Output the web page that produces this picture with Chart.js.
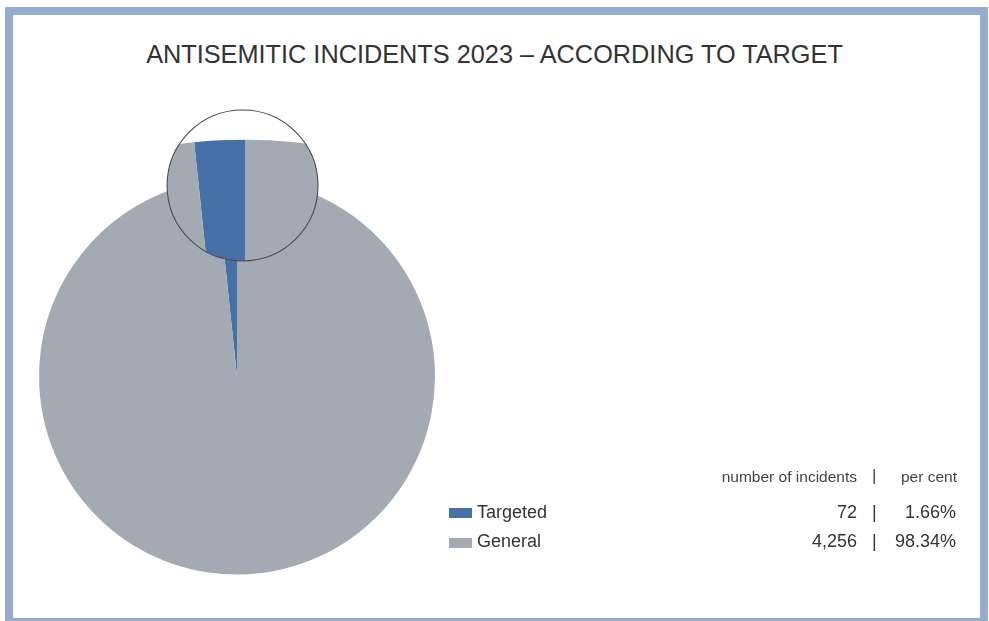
<!DOCTYPE html>
<html>
<head>
<meta charset="utf-8">
<script src="https://cdn.jsdelivr.net/npm/chart.js@4/dist/chart.umd.min.js"></script>
<style>
  html, body { margin: 0; padding: 0; background: #fff; overflow: hidden; }
  body { width: 989px; height: 621px; position: relative; font-family: "Liberation Sans", Arial, sans-serif; }
  .frame { position: absolute; left: 5px; top: 7px; width: 983px; height: 619px; box-sizing: border-box; border: 8px solid #97aad0; }
  .title { position: absolute; left: 0; width: 989px; top: 42px; text-align: center; font-size: 25.3px; line-height: 25px; color: #333; }
  canvas { position: absolute; left: 0; top: 0; }
  .legend { position: absolute; left: 0; top: 0; width: 989px; height: 621px; color: #333; }
  .legend div { position: absolute; white-space: nowrap; }
  .hdr { font-size: 15.5px; line-height: 15.5px; color: #444; }
  .row { font-size: 18px; line-height: 18px; }
  .sw { position: absolute; width: 23px; height: 10px; }
</style>
</head>
<body>
<div class="frame"></div>
<div class="title">ANTISEMITIC INCIDENTS 2023 – ACCORDING TO TARGET</div>
<canvas id="grafica" width="989" height="621"></canvas>
<div class="legend" id="leyenda"></div>

<script>
const categorias = ['Targeted', 'General'];
const incidentes = [72, 4256];
const porcentajes = ['1.66%', '98.34%'];
const numerosTexto = ['72', '4,256'];
const colores = ['#4571a8', '#a4aab4'];
const cabecera = ['number of incidents', 'per cent'];

const total = incidentes[0] + incidentes[1];

// lupa sobre la punta de la porción pequeña
const lupa = {
    id: 'lupa',
    afterDatasetsDraw(chart, args, opts) {
        const arcos = chart.getDatasetMeta(0).data;
        const cx = arcos[0].x, cy = arcos[0].y, r = arcos[0].outerRadius;
        const mx = cx + opts.dx * r, my = cy + opts.dy * r, mr = opts.radio * r;
        const sx = cx + opts.sx * r, sy = cy + opts.sy * r;
        const ctx = chart.ctx;
        ctx.save();
        ctx.beginPath();
        ctx.arc(mx, my, mr, 0, Math.PI * 2);
        ctx.fillStyle = '#fff';
        ctx.fill();
        ctx.clip();
        ctx.translate(mx, my);
        ctx.scale(opts.zoom, opts.zoom);
        ctx.translate(-sx, -sy);
        arcos.forEach(a => a.draw(ctx));
        ctx.restore();
        ctx.save();
        ctx.beginPath();
        ctx.arc(mx, my, mr, 0, Math.PI * 2);
        ctx.strokeStyle = '#4a4a4a';
        ctx.lineWidth = 1.1;
        ctx.stroke();
        ctx.restore();
    }
};

new Chart(document.getElementById('grafica'), {
    type: 'pie',
    data: {
        labels: categorias,
        datasets: [{
            data: incidentes,
            backgroundColor: colores,
            borderWidth: 0
        }]
    },
    options: {
        responsive: false,
        animation: false,
        rotation: -incidentes[0] / total * 360,
        layout: { padding: { left: 39, right: 554, top: 178, bottom: 46 } },
        plugins: {
            legend: { display: false },
            tooltip: { enabled: false },
            lupa: { dx: 0.028, dy: -0.965, radio: 0.381, sx: -0.005, sy: -0.906, zoom: 2.46 }
        }
    },
    plugins: [lupa]
});

// leyenda en forma de tabla
const leyenda = document.getElementById('leyenda');
function texto(clase, contenido, css) {
    const d = document.createElement('div');
    d.className = clase;
    d.textContent = contenido;
    Object.assign(d.style, css);
    leyenda.appendChild(d);
}
texto('hdr', cabecera[0], { right: (989 - 857) + 'px', top: '469px' });
texto('hdr', '|', { left: '872px', top: '468px', fontSize: '17px' });
texto('hdr', cabecera[1], { right: (989 - 957) + 'px', top: '469px' });

categorias.forEach(function(cat, i) {
    const top = 503 + i * 29;
    const sw = document.createElement('div');
    sw.className = 'sw';
    sw.style.left = '449px';
    sw.style.top = (508 + i * 30) + 'px';
    sw.style.background = colores[i];
    leyenda.appendChild(sw);
    texto('row', cat, { left: '477px', top: top + 'px' });
    texto('row', numerosTexto[i], { right: (989 - 857) + 'px', top: top + 'px' });
    texto('row', '|', { left: '872px', top: top + 'px' });
    texto('row', porcentajes[i], { right: (989 - 956) + 'px', top: top + 'px' });
});
</script>
</body>
</html>
